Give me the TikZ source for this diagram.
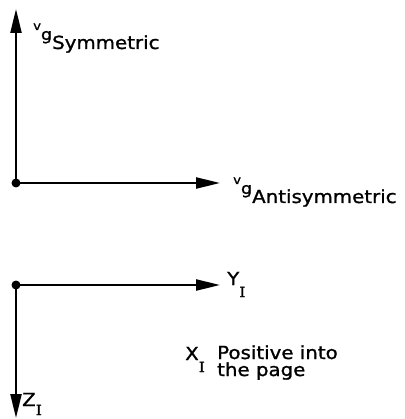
\documentclass[tikz,border=0pt]{standalone}
\usepackage{fontspec}
\setmainfont{DejaVu Sans}[FakeStretch=1.1,FakeBold=1.2]
\newfontfamily\serifI{DejaVu Serif}[FakeStretch=1.1,FakeBold=1.2]
\usetikzlibrary{arrows.meta,positioning}
\newcommand{\vg}[1]{\raisebox{19pt}{\fontsize{12}{12}\selectfont v}\raisebox{9pt}{\fontsize{16}{16}\selectfont g}#1}
\newcommand{\subI}[1]{\raisebox{-#1pt}{\serifI\fontsize{14}{14}\selectfont I}}

\begin{document}
\begin{tikzpicture}[
  x=1pt,y=-1pt,
  axis/.style={line width=2.4pt,-{Triangle[length=24pt,width=11pt]}},
  dot/.style={circle,fill,inner sep=0pt,minimum size=9pt},
  lbl/.style={font=\fontsize{18}{17}\selectfont,inner sep=0pt,anchor=base west}
]
\useasboundingbox (0,0) rectangle (404,419);
% velocity axes
\node[dot] (vo) at (16,183) {};
\coordinate (vsym) at (16,9);
\coordinate (vanti) at (220,183);
\draw[axis] (vo.center) -- (vsym);
\draw[axis] (vo.center) -- (vanti);
\node[lbl] (symlbl) at (33,49) {\vg{Symmetric}};
\node[lbl] (antilbl) at (233,203) {\vg{Antisymmetric}};
% inertial axes
\node[dot] (io) at (16,285) {};
\coordinate (iy) at (220,285);
\coordinate (iz) at (16,418);
\draw[axis] (io.center) -- (iy);
\draw[axis] (io.center) -- (iz);
\node[lbl] (ylbl) at (227,285) {Y\subI{12}};
\node[lbl] (zlbl) at (22,406) {Z\subI{9}};
\node[lbl] (xlbl) at (185,360) {X\subI{12}};
\node[lbl,align=left] (xnote) at (217,376) {Positive into\\the page};
\end{tikzpicture}
\end{document}
